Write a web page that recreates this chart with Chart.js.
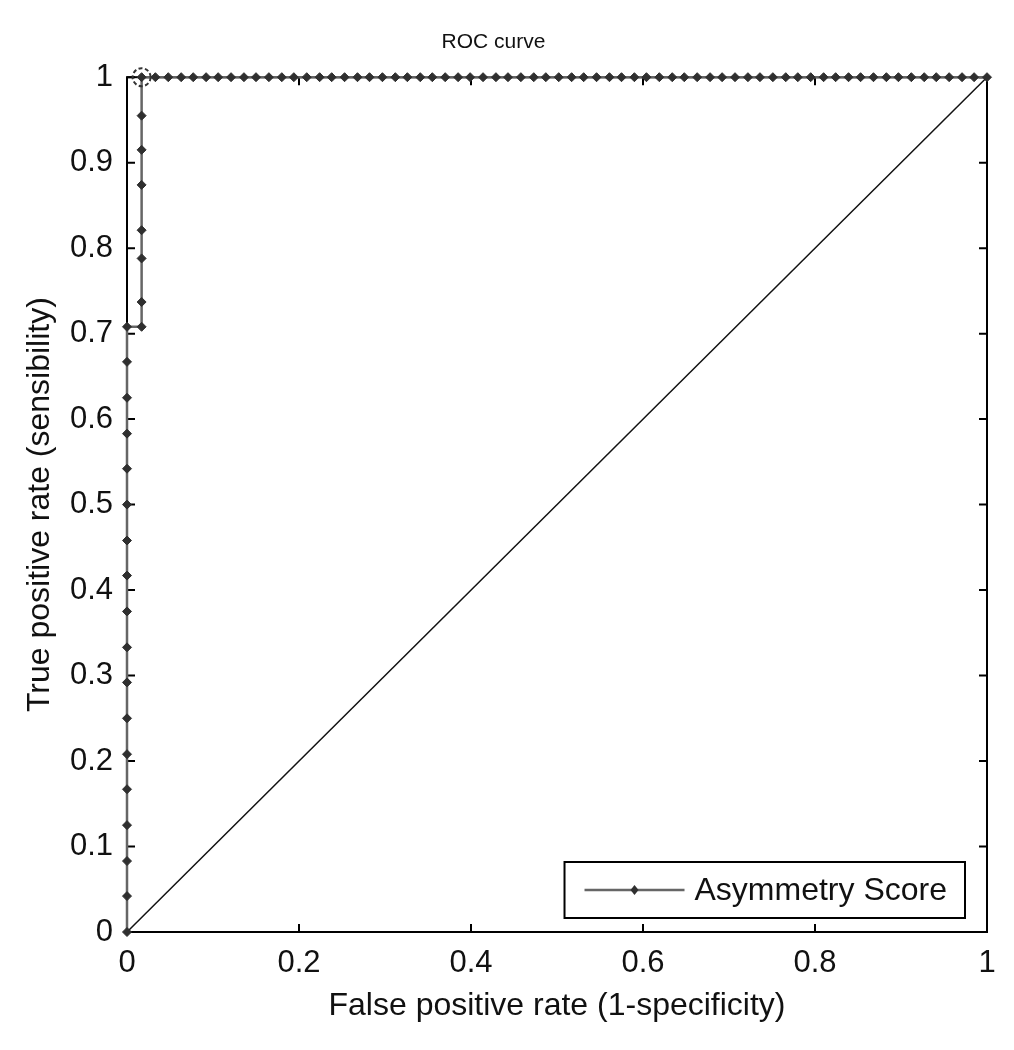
<!DOCTYPE html>
<html lang="en">
<head>
  <meta charset="UTF-8">
  <title>ROC curve</title>
  <script src="https://cdn.jsdelivr.net/npm/chart.js"></script>
  <style>
    body { margin: 0; background: #fff; }
    #wrap { width: 1014px; height: 1050px; }
  </style>
</head>
<body>
  <div id="wrap"><canvas id="roc"></canvas></div>

  <script>
    // ROC points
    // vertical run at FPR = 0
    const tprAtZero = [0, 0.042, 0.083, 0.125, 0.167, 0.208, 0.25, 0.292, 0.333, 0.375,
                       0.417, 0.458, 0.5, 0.542, 0.583, 0.625, 0.667, 0.708];
    // vertical run at the first false positive
    const firstFp = 0.017;
    const tprAtFirstFp = [0.708, 0.737, 0.788, 0.821, 0.874, 0.915, 0.955, 1];
    // horizontal run at TPR = 1
    const fprAtFullTpr = [0.033, 0.048, 0.063, 0.077, 0.092, 0.106, 0.121, 0.136, 0.150,
      0.165, 0.180, 0.194, 0.209, 0.224, 0.238, 0.253, 0.268, 0.282, 0.297, 0.312, 0.326,
      0.341, 0.355, 0.370, 0.385, 0.399, 0.414, 0.429, 0.443, 0.458, 0.473, 0.487, 0.502,
      0.517, 0.531, 0.546, 0.561, 0.575, 0.590, 0.604, 0.619, 0.634, 0.648, 0.663, 0.678,
      0.692, 0.707, 0.722, 0.736, 0.751, 0.766, 0.780, 0.795, 0.810, 0.824, 0.839, 0.853,
      0.868, 0.883, 0.897, 0.912, 0.927, 0.941, 0.956, 0.971, 0.985, 1.000];
    // chance line and the marked operating point
    const chanceFpr = [0, 1];
    const chanceTpr = [0, 1];
    const optimalPoint = [firstFp, 1];

    const xTicks = [0, 0.2, 0.4, 0.6, 0.8, 1];
    const yTicks = [0, 0.1, 0.2, 0.3, 0.4, 0.5, 0.6, 0.7, 0.8, 0.9, 1];

    const curve = []
      .concat(tprAtZero.map(y => ({ x: 0, y })))
      .concat(tprAtFirstFp.map(y => ({ x: firstFp, y })))
      .concat(fprAtFullTpr.map(x => ({ x, y: 1 })));

    const FONT = "'Liberation Sans', Arial, sans-serif";
    const LINE_GREY = '#666666';
    const MARK = '#2f2f2f';

    // MATLAB style box with inner ticks on all four sides
    const boxPlugin = {
      id: 'box',
      beforeDatasetsDraw(chart) {
        const { ctx, chartArea: a, scales } = chart;
        const len = 8;
        ctx.save();
        ctx.strokeStyle = '#000';
        ctx.lineWidth = 2;
        ctx.strokeRect(a.left, a.top, a.right - a.left, a.bottom - a.top);
        ctx.beginPath();
        xTicks.forEach(v => {
          const px = scales.x.getPixelForValue(v);
          ctx.moveTo(px, a.bottom); ctx.lineTo(px, a.bottom - len);
          ctx.moveTo(px, a.top); ctx.lineTo(px, a.top + len);
        });
        yTicks.forEach(v => {
          const py = scales.y.getPixelForValue(v);
          ctx.moveTo(a.left, py); ctx.lineTo(a.left + len, py);
          ctx.moveTo(a.right, py); ctx.lineTo(a.right - len, py);
        });
        ctx.stroke();
        ctx.restore();
      },
      afterDatasetsDraw(chart) {
        // dashed circle round the chosen cut-off
        const meta = chart.getDatasetMeta(2);
        const pt = meta.data[0];
        if (!pt) return;
        const ctx = chart.ctx;
        ctx.save();
        ctx.strokeStyle = '#333';
        ctx.lineWidth = 2;
        ctx.setLineDash([4, 2.5]);
        ctx.beginPath();
        ctx.arc(pt.x, pt.y, 9, 0, Math.PI * 2);
        ctx.stroke();
        ctx.restore();
      }
    };

    // legend box inside the lower right corner
    const insideLegend = {
      id: 'insideLegend',
      afterDraw(chart) {
        const { ctx, chartArea: a } = chart;
        const label = chart.data.datasets[0].label;
        ctx.save();
        ctx.font = '32px ' + FONT;
        const tw = ctx.measureText(label).width;
        const h = 56;
        const right = a.right - 22;
        const bottom = a.bottom - 14;
        const w = 20 + 100 + 10 + tw + 18;
        const left = right - w;
        const top = bottom - h;
        const cy = top + h / 2;
        ctx.fillStyle = '#fff';
        ctx.fillRect(left, top, w, h);
        ctx.strokeStyle = '#000';
        ctx.lineWidth = 2;
        ctx.strokeRect(left, top, w, h);
        ctx.strokeStyle = LINE_GREY;
        ctx.lineWidth = 2.5;
        ctx.beginPath();
        ctx.moveTo(left + 20, cy);
        ctx.lineTo(left + 120, cy);
        ctx.stroke();
        const mx = left + 70;
        ctx.fillStyle = MARK;
        ctx.beginPath();
        ctx.moveTo(mx, cy - 5); ctx.lineTo(mx + 4, cy); ctx.lineTo(mx, cy + 5); ctx.lineTo(mx - 4, cy);
        ctx.closePath();
        ctx.fill();
        ctx.fillStyle = '#111';
        ctx.textBaseline = 'middle';
        ctx.fillText(label, left + 130, cy + 1);
        ctx.restore();
      }
    };

    new Chart(document.getElementById('roc'), {
      type: 'line',
      data: {
        datasets: [
          {
            label: 'Asymmetry Score',
            data: curve,
            borderColor: LINE_GREY,
            borderWidth: 2.5,
            pointStyle: 'rectRot',
            pointRadius: 4.5,
            pointBackgroundColor: MARK,
            pointBorderColor: MARK,
            pointBorderWidth: 1,
            tension: 0,
            clip: false
          },
          {
            label: 'chance',
            data: chanceFpr.map((x, i) => ({ x, y: chanceTpr[i] })),
            borderColor: '#111',
            borderWidth: 1.5,
            pointRadius: 0,
            clip: false
          },
          {
            label: 'cut-off',
            data: [{ x: optimalPoint[0], y: optimalPoint[1] }],
            showLine: false,
            pointRadius: 0,
            clip: false
          }
        ]
      },
      options: {
        responsive: true,
        maintainAspectRatio: false,
        animation: false,
        layout: { padding: { left: 0, right: 27, top: 0, bottom: 0 } },
        plugins: {
          legend: { display: false },
          tooltip: { enabled: false },
          title: {
            display: true,
            text: 'ROC curve',
            color: '#111',
            font: { family: FONT, size: 21, weight: 'normal' },
            padding: { top: 30, bottom: 22 }
          }
        },
        scales: {
          x: {
            type: 'linear',
            min: 0,
            max: 1,
            afterFit(scale) { scale.height = 118; },
            afterBuildTicks(scale) { scale.ticks = xTicks.map(v => ({ value: v })); },
            grid: { display: false, drawTicks: false },
            border: { display: false },
            ticks: {
              color: '#111',
              padding: 13,
              maxRotation: 0,
              font: { family: FONT, size: 31 },
              callback: v => String(v)
            },
            title: {
              display: true,
              text: 'False positive rate (1-specificity)',
              color: '#111',
              font: { family: FONT, size: 32 },
              padding: { top: 0, bottom: 25 }
            }
          },
          y: {
            min: 0,
            max: 1,
            afterFit(scale) { scale.width = 127; },
            afterBuildTicks(scale) { scale.ticks = yTicks.map(v => ({ value: v })); },
            grid: { display: false, drawTicks: false },
            border: { display: false },
            ticks: {
              color: '#111',
              padding: 14,
              font: { family: FONT, size: 31 },
              callback: v => String(v)
            },
            title: {
              display: true,
              text: 'True positive rate (sensibility)',
              color: '#111',
              font: { family: FONT, size: 32 },
              padding: { top: 21, bottom: 0 }
            }
          }
        }
      },
      plugins: [boxPlugin, insideLegend]
    });
  </script>
</body>
</html>
